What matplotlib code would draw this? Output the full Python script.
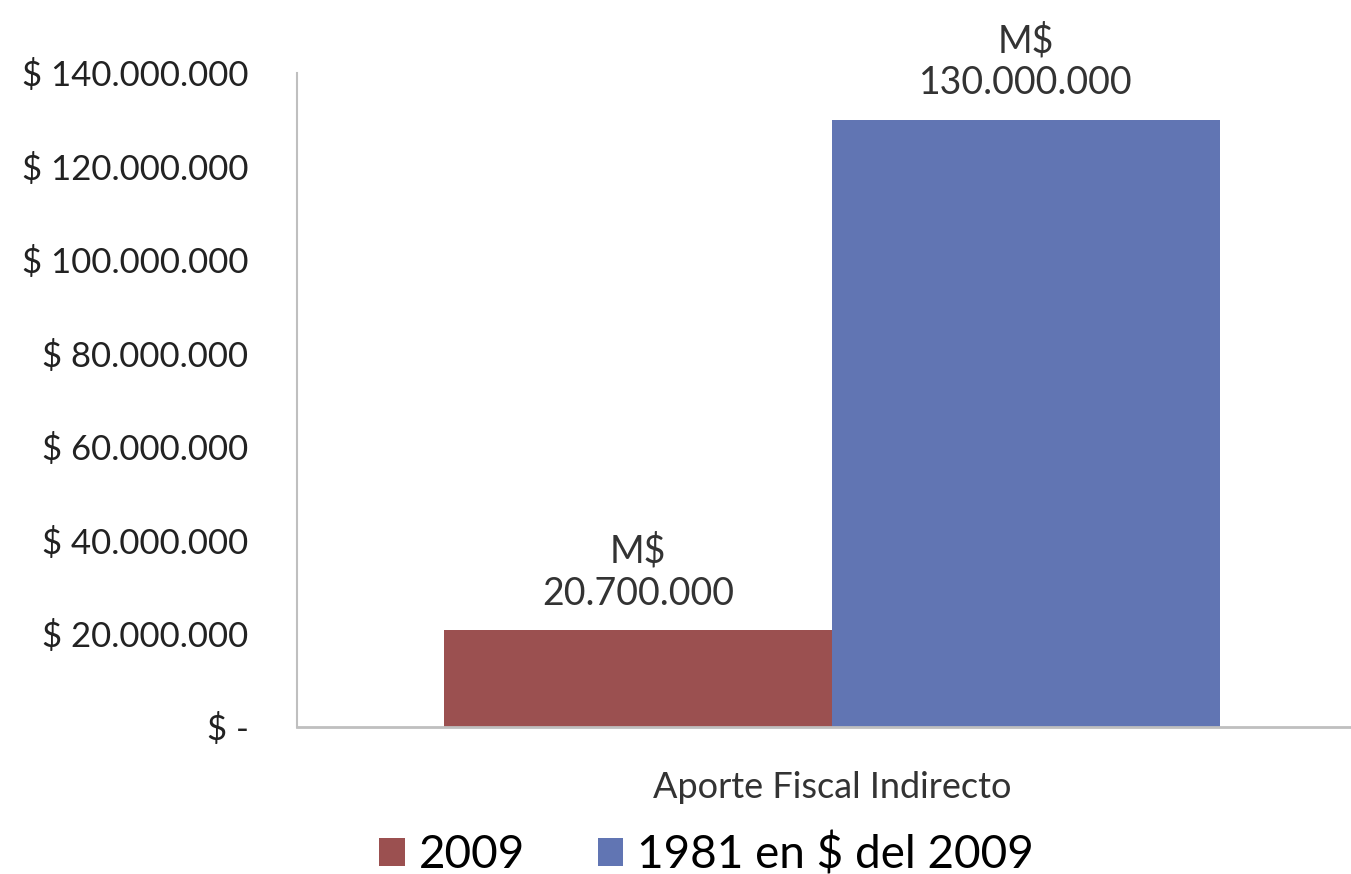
import numpy as np
import matplotlib.pyplot as plt

# data
category = ['Aporte Fiscal Indirecto']
series_names = ['2009', '1981 en $ del 2009']
values = [20700000, 130000000]
value_labels = ['M$\n20.700.000', 'M$\n130.000.000']
colors = ['#9b5050', '#6175b3']
yticks = [0, 20000000, 40000000, 60000000, 80000000, 100000000, 120000000, 140000000]
ytick_labels = ['$ -', '$ 20.000.000', '$ 40.000.000', '$ 60.000.000', '$ 80.000.000',
                '$ 100.000.000', '$ 120.000.000', '$ 140.000.000']

plt.rcParams['font.family'] = ['Lato', 'DejaVu Sans']

fig = plt.figure(figsize=(13.51, 8.74), dpi=100)
fig.patch.set_facecolor('white')

# axes spans past the right edge, like the slide
ax = fig.add_axes([297 / 1351, 1 - 727 / 874, 1070 / 1351, 654 / 874])
ax.set_facecolor('none')

bar_width = 0.3626
offsets = [-bar_width / 2, bar_width / 2]
for i in range(len(values)):
    ax.bar(offsets[i], values[i], bar_width, color=colors[i], label=series_names[i])
    ax.text(offsets[i], values[i] + 4000000, value_labels[i], ha='center', va='bottom',
            fontsize=27, color='#333333', linespacing=1.2)

ax.set_xlim(-0.5, 0.5)
ax.set_ylim(0, 140000000)
ax.set_yticks(yticks)
ax.set_yticklabels(ytick_labels)
ax.set_xticks([0])
ax.set_xticklabels(category)
ax.tick_params(axis='y', length=0, labelsize=25, labelcolor='#222222', pad=35)
ax.tick_params(axis='x', length=0, labelsize=26, labelcolor='#333333', pad=32)
for lab in ax.get_yticklabels():
    lab.set_horizontalalignment('right')

for s in ['top', 'right']:
    ax.spines[s].set_visible(False)
ax.spines['left'].set_color('#bfbfbf')
ax.spines['bottom'].set_color('#bfbfbf')
ax.spines['left'].set_linewidth(1.5)
ax.spines['bottom'].set_linewidth(2)

fig.legend(loc='lower center', bbox_to_anchor=(0.523, -0.05), ncol=2, frameon=False,
           fontsize=33, handlelength=0.55, handleheight=0.55, handletextpad=0.3,
           columnspacing=1.6)

plt.savefig('out.png', dpi=100)
